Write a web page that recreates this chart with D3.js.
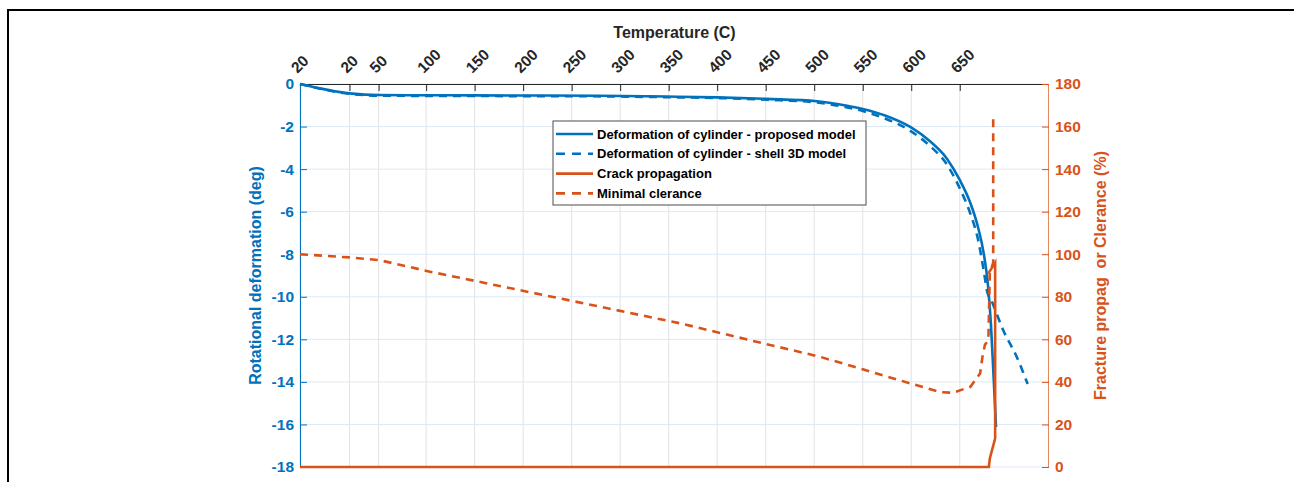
<!DOCTYPE html>
<html>
<head>
<meta charset="utf-8">
<script src="https://cdn.jsdelivr.net/npm/d3@7"></script>
<style>
  body { margin: 0; background: #fff; }
  svg { display: block; font-family: "Liberation Sans", Arial, sans-serif; font-weight: bold; }
</style>
</head>
<body>
<svg id="chart" width="1294" height="482"></svg>
<script>
// x runs on a heating "step" axis; tick labels show the temperature at each step
const xTickSteps  = [0, 51, 81, 130, 180, 230, 280, 330, 380, 430, 480, 530, 580, 630, 680];
const xTickLabels = ["20", "20", "50", "100", "150", "200", "250", "300", "350", "400", "450", "500", "550", "600", "650"];

const leftTicks  = [0, -2, -4, -6, -8, -10, -12, -14, -16, -18];
const rightTicks = [0, 20, 40, 60, 80, 100, 120, 140, 160, 180];

// Deformation of cylinder - proposed model (deg)
const proposedStep = [0, 51, 82, 155, 227, 309, 378, 430, 481, 533, 564, 580, 603, 629, 649, 667, 680, 690.6, 698.8, 705, 709.1, 712.2, 714.8, 717.4];
const proposedDef  = [0, -0.44, -0.52, -0.53, -0.54, -0.55, -0.59, -0.63, -0.70, -0.81, -1.02, -1.17, -1.48, -2.02, -2.68, -3.52, -4.51, -5.55, -6.72, -8.04, -9.45, -11.33, -13.67, -16.12];

// Deformation of cylinder - shell 3D model (deg)
const shellStep = [0, 51, 82, 155, 227, 309, 378, 430, 481, 533, 564, 580, 603, 629, 649, 667, 680, 690.6, 698.8, 705, 708, 713.3, 724.6, 739, 750];
const shellDef  = [0, -0.46, -0.55, -0.56, -0.57, -0.58, -0.62, -0.66, -0.74, -0.87, -1.1, -1.27, -1.62, -2.2, -2.9, -3.8, -4.9, -6.05, -7.3, -8.85, -9.7, -10.25, -11.55, -12.85, -14.1];

// Crack propagation (%)
const crackStep = [0, 710, 711, 716.5, 716.5, 709.5];
const crackPct  = [0, 0, 4, 13.5, 96, 91];

// Minimal clearance (%)
const clearStep = [0, 51, 82, 134, 280, 392, 474, 536, 580, 629, 660, 673, 691, 701, 703.5, 706, 709.5, 711, 714.5, 714.5];
const clearPct  = [100, 98.5, 97.2, 91.8, 78.1, 67.5, 58.5, 51.8, 45.9, 39.3, 35.2, 34.9, 37.7, 44, 52, 57.5, 59.5, 91, 96, 163.5];

const BLUE = "#0072BD", ORANGE = "#D95319", INK = "#262626";
const TICK_FONT = 15.5;

const svg = d3.select("#chart");

// figure frame (only top and left edges are in view)
svg.append("path")
  .attr("d", "M8,482 V10 H1294")
  .attr("fill", "none")
  .attr("stroke", "#000")
  .attr("stroke-width", 2);

const pLeft = 300, pRight = 1049, pTop = 84, pBottom = 467;

const x = d3.scaleLinear().domain([0, 772]).range([pLeft, pRight]);
const yL = d3.scaleLinear().domain([-18, 0]).range([pBottom, pTop]);
const yR = d3.scaleLinear().domain([0, 180]).range([pBottom, pTop]);

// grid
svg.append("g")
  .selectAll("line")
  .data(xTickSteps)
  .join("line")
  .attr("x1", d => x(d)).attr("x2", d => x(d))
  .attr("y1", pTop).attr("y2", pBottom)
  .attr("stroke", "#e2e2e2").attr("stroke-width", 1);

svg.append("g")
  .selectAll("line")
  .data(leftTicks)
  .join("line")
  .attr("x1", pLeft).attr("x2", pRight)
  .attr("y1", d => yL(d)).attr("y2", d => yL(d))
  .attr("stroke", "#dde9f5").attr("stroke-width", 1);

// top axis
const xAxis = d3.axisTop(x)
  .tickValues(xTickSteps)
  .tickSize(-7)
  .tickFormat((d, i) => xTickLabels[i]);

const gx = svg.append("g").attr("transform", `translate(0,${pTop})`).call(xAxis);
gx.select(".domain").attr("stroke", INK).attr("d", `M${pLeft},0.5H${pRight}`);
gx.selectAll(".tick line").attr("stroke", INK);
gx.selectAll(".tick text")
  .attr("fill", INK)
  .attr("font-size", TICK_FONT)
  .attr("text-anchor", "start")
  .attr("y", 0).attr("dy", 0)
  .attr("transform", "translate(-3,-10) rotate(-45)");

svg.append("text")
  .attr("x", (pLeft + pRight) / 2)
  .attr("y", 38)
  .attr("text-anchor", "middle")
  .attr("font-size", 16)
  .attr("fill", INK)
  .text("Temperature (C)");

// left axis (plain hyphen for negatives, as in the original)
const gl = svg.append("g").attr("transform", `translate(${pLeft},0)`)
  .call(d3.axisLeft(yL).tickValues(leftTicks).tickSize(-7).tickPadding(6).tickFormat(d => String(d)));
gl.select(".domain").attr("stroke", BLUE).attr("d", `M0.5,${pTop}V${pBottom}`);
gl.selectAll(".tick line").attr("stroke", BLUE);
gl.selectAll(".tick text").attr("fill", BLUE).attr("font-size", TICK_FONT);

svg.append("text")
  .attr("transform", `translate(261,${(pTop + pBottom) / 2}) rotate(-90)`)
  .attr("text-anchor", "middle")
  .attr("font-size", 16)
  .attr("fill", BLUE)
  .text("Rotational deformation (deg)");

// right axis
const gr = svg.append("g").attr("transform", `translate(${pRight},0)`)
  .call(d3.axisRight(yR).tickValues(rightTicks).tickSize(-7).tickPadding(6));
gr.select(".domain").attr("stroke", ORANGE).attr("stroke-opacity", 0.7).attr("d", `M-0.5,${pTop}V${pBottom}`);
gr.selectAll(".tick line").attr("stroke", ORANGE);
gr.selectAll(".tick text").attr("fill", ORANGE).attr("font-size", TICK_FONT);

svg.append("text")
  .attr("transform", `translate(1106,${(pTop + pBottom) / 2}) rotate(-90)`)
  .attr("text-anchor", "middle")
  .attr("font-size", 16)
  .attr("fill", ORANGE)
  .style("white-space", "pre")
  .text("Fracture propag  or Clerance (%)");

// series
const series = [
  { name: "Deformation of cylinder - proposed model", xs: proposedStep, ys: proposedDef, y: yL, color: BLUE, dash: null, curve: d3.curveMonotoneX },
  { name: "Deformation of cylinder - shell 3D model", xs: shellStep, ys: shellDef, y: yL, color: BLUE, dash: "8,6", curve: d3.curveMonotoneX },
  { name: "Crack propagation", xs: crackStep, ys: crackPct, y: yR, color: ORANGE, dash: null, curve: d3.curveLinear },
  { name: "Minimal clerance", xs: clearStep, ys: clearPct, y: yR, color: ORANGE, dash: "8,6", curve: d3.curveLinear }
];

const plot = svg.append("g");
series.forEach(s => {
  const pts = s.xs.map((v, i) => [v, s.ys[i]]);
  const line = d3.line().x(d => x(d[0])).y(d => s.y(d[1])).curve(s.curve);
  plot.append("path")
    .attr("d", line(pts))
    .attr("fill", "none")
    .attr("stroke", s.color)
    .attr("stroke-width", 2.6)
    .attr("stroke-dasharray", s.dash);
});

// legend
const lg = svg.append("g").attr("transform", "translate(553,121)");
lg.append("rect")
  .attr("width", 313).attr("height", 84)
  .attr("fill", "#fff")
  .attr("stroke", "#4d4d4d").attr("stroke-width", 1);

const rows = lg.selectAll("g.row")
  .data(series)
  .join("g")
  .attr("class", "row")
  .attr("transform", (d, i) => `translate(0,${13 + i * 19.8})`);

rows.append("line")
  .attr("x1", 3).attr("x2", 40)
  .attr("stroke", d => d.color)
  .attr("stroke-width", 2.6)
  .attr("stroke-dasharray", d => d.dash ? "9,7" : null);

rows.append("text")
  .attr("x", 44)
  .attr("dy", "0.36em")
  .attr("font-size", 13)
  .attr("fill", "#000")
  .text(d => d.name);
</script>
</body>
</html>
